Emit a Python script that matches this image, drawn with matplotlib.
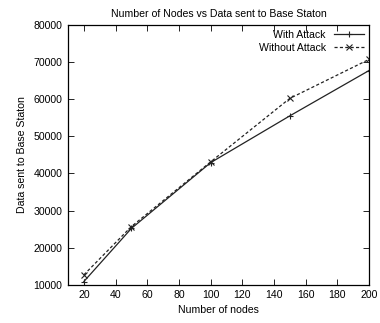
import matplotlib

matplotlib.use("Agg")

import matplotlib.pyplot as plt

nodes = [20, 50, 100, 150, 200]
with_attack = [10900, 25200, 42900, 55500, 67700]
without_attack = [12700, 25700, 43100, 60200, 70700]

x_ticks = [20, 40, 60, 80, 100, 120, 140, 160, 180, 200]
y_ticks = [10000, 20000, 30000, 40000, 50000, 60000, 70000, 80000]

plt.rcParams["font.family"] = ["Liberation Sans", "DejaVu Sans"]

fig = plt.figure(figsize=(3.8, 3.23), dpi=100)
ax = fig.add_axes([0.179, 0.118, 0.792, 0.805])

ax.plot(nodes, with_attack, color="#222222", linewidth=0.9, marker="+",
        markersize=5, markeredgewidth=0.8, label="With Attack")
ax.plot(nodes, without_attack, color="#222222", linewidth=0.9, linestyle=(0, (2.5, 1.8)),
        marker="x", markersize=4, markeredgewidth=0.8, label="Without Attack")

ax.set_xlim(10, 200)
ax.set_ylim(10000, 80000)
ax.set_xticks(x_ticks)
ax.set_yticks(y_ticks)
ax.tick_params(direction="in", top=True, right=True, length=4, width=0.6,
               labelsize=7.6, pad=4)
for spine in ax.spines.values():
    spine.set_linewidth(0.9)

ax.set_title("Number of Nodes vs Data sent to Base Staton", fontsize=7.6, pad=6)
ax.set_xlabel("Number of nodes", fontsize=7.6, labelpad=3)
ax.set_ylabel("Data sent to Base Staton", fontsize=7.6, labelpad=5)

ax.legend(loc="upper right", frameon=False, markerfirst=False, fontsize=7.6,
          handlelength=2.8, borderpad=0.2, labelspacing=0.25, borderaxespad=0.3)

fig.savefig("out.png", dpi=100)
